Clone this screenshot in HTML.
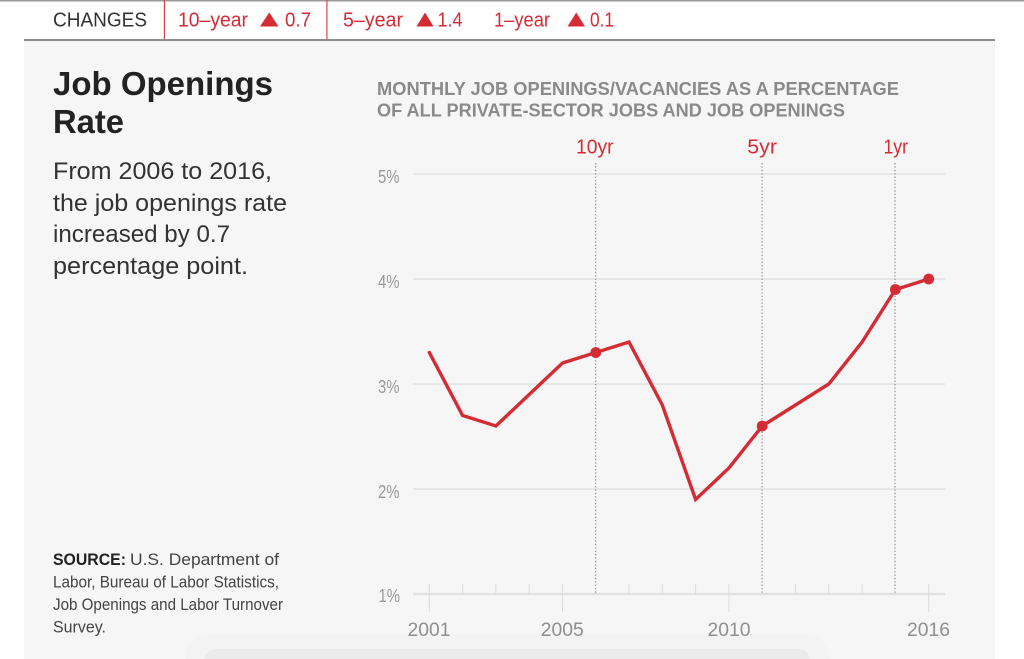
<!DOCTYPE html>
<html><head><meta charset="utf-8">
<style>
html,body{margin:0;padding:0;background:#fff;width:1024px;height:659px;overflow:hidden;}
svg{display:block;}
text{font-family:"Liberation Sans",sans-serif;}
</style></head>
<body>
<svg width="1024" height="659" viewBox="0 0 1024 659" xmlns="http://www.w3.org/2000/svg">
<rect width="1024" height="659" fill="#ffffff"/>
<rect x="0" y="0" width="1024" height="1.5" fill="#9a9a9a"/>
<rect x="24" y="41" width="971" height="618" fill="#f6f6f6"/>
<rect x="24" y="39" width="971" height="2" fill="#8c8c8c"/>
<rect x="163.8" y="0" width="1.2" height="39" fill="#d9434a"/>
<rect x="326.3" y="0" width="1.2" height="39" fill="#d9434a"/>

<!-- header -->
<text x="53" y="26.5" font-size="20" fill="#333" textLength="94" lengthAdjust="spacingAndGlyphs">CHANGES</text>
<g fill="#d52b34" font-size="20">
<text x="178" y="26.5" textLength="70" lengthAdjust="spacingAndGlyphs">10–year</text>
<polygon points="260,26.5 278.5,26.5 269.25,12.5"/>
<text x="285" y="26.5" textLength="26" lengthAdjust="spacingAndGlyphs">0.7</text>
<text x="343" y="26.5" textLength="60" lengthAdjust="spacingAndGlyphs">5–year</text>
<polygon points="416.5,26.5 433.5,26.5 425,12.5"/>
<text x="437.5" y="26.5" textLength="25" lengthAdjust="spacingAndGlyphs">1.4</text>
<text x="494" y="26.5" textLength="56" lengthAdjust="spacingAndGlyphs">1–year</text>
<polygon points="567.5,26.5 585,26.5 576.25,12.5"/>
<text x="590" y="26.5" textLength="24" lengthAdjust="spacingAndGlyphs">0.1</text>
</g>

<!-- left column -->
<text x="53" y="95" font-size="33" font-weight="bold" fill="#222" textLength="220" lengthAdjust="spacingAndGlyphs">Job Openings</text>
<text x="53" y="133" font-size="33" font-weight="bold" fill="#222" textLength="71" lengthAdjust="spacingAndGlyphs">Rate</text>
<g font-size="24" fill="#333">
<text x="53" y="179" textLength="219" lengthAdjust="spacingAndGlyphs">From 2006 to 2016,</text>
<text x="53" y="211" textLength="234" lengthAdjust="spacingAndGlyphs">the job openings rate</text>
<text x="53" y="242" textLength="177" lengthAdjust="spacingAndGlyphs">increased by 0.7</text>
<text x="53" y="274" textLength="195" lengthAdjust="spacingAndGlyphs">percentage point.</text>
</g>
<g font-size="17" fill="#444">
<text x="53" y="565" font-weight="bold" fill="#222" textLength="73" lengthAdjust="spacingAndGlyphs">SOURCE:</text>
<text x="130" y="565" textLength="149" lengthAdjust="spacingAndGlyphs">U.S. Department of</text>
<text x="53" y="587.5" textLength="226" lengthAdjust="spacingAndGlyphs">Labor, Bureau of Labor Statistics,</text>
<text x="53" y="610" textLength="230" lengthAdjust="spacingAndGlyphs">Job Openings and Labor Turnover</text>
<text x="53" y="632.5" textLength="53" lengthAdjust="spacingAndGlyphs">Survey.</text>
</g>

<!-- chart title -->
<g font-size="18.5" font-weight="bold" fill="#8a8a8a">
<text x="377" y="95" textLength="522" lengthAdjust="spacingAndGlyphs">MONTHLY JOB OPENINGS/VACANCIES AS A PERCENTAGE</text>
<text x="377" y="116.7" textLength="468" lengthAdjust="spacingAndGlyphs">OF ALL PRIVATE-SECTOR JOBS AND JOB OPENINGS</text>
</g>

<!-- gridlines -->
<g fill="#e2e2e2">
<rect x="413" y="173.3" width="532" height="1.5"/>
<rect x="413" y="278.3" width="532" height="1.5"/>
<rect x="413" y="383.3" width="532" height="1.5"/>
<rect x="413" y="488.3" width="532" height="1.5"/>
<rect x="413" y="592.8" width="532" height="2.4"/>
</g>
<!-- ticks -->
<g stroke="#dcdcdc" stroke-width="1">
<line x1="429.3" y1="584" x2="429.3" y2="612"/>
<line x1="462.6" y1="584" x2="462.6" y2="594"/>
<line x1="495.9" y1="584" x2="495.9" y2="594"/>
<line x1="529.2" y1="584" x2="529.2" y2="594"/>
<line x1="562.5" y1="584" x2="562.5" y2="612"/>
<line x1="629.0" y1="584" x2="629.0" y2="594"/>
<line x1="662.3" y1="584" x2="662.3" y2="594"/>
<line x1="695.6" y1="584" x2="695.6" y2="594"/>
<line x1="728.9" y1="584" x2="728.9" y2="612"/>
<line x1="795.5" y1="584" x2="795.5" y2="594"/>
<line x1="828.8" y1="584" x2="828.8" y2="594"/>
<line x1="862.1" y1="584" x2="862.1" y2="594"/>
<line x1="928.7" y1="584" x2="928.7" y2="612"/>
</g>

<!-- y labels -->
<g font-size="18.5" fill="#999">
<text x="378" y="183" textLength="21.5" lengthAdjust="spacingAndGlyphs">5%</text>
<text x="378" y="288" textLength="21.5" lengthAdjust="spacingAndGlyphs">4%</text>
<text x="378" y="393" textLength="21.5" lengthAdjust="spacingAndGlyphs">3%</text>
<text x="378" y="498" textLength="21.5" lengthAdjust="spacingAndGlyphs">2%</text>
<text x="378.5" y="602" textLength="21.5" lengthAdjust="spacingAndGlyphs">1%</text>
</g>

<!-- bottom card shape (clipped to frame) -->
<path d="M185,659 L185,662 Q185,634 213,634 L801,634 Q829,634 829,662 L829,659 Z" fill="#f2f3f2"/>
<path d="M204,659 L204,663 Q204,649 218,649 L796,649 Q810,649 810,663 L810,659 Z" fill="#ebebeb"/>

<!-- x labels -->
<g font-size="19" fill="#8f8f8f" text-anchor="middle">
<text x="429" y="636" textLength="43" lengthAdjust="spacingAndGlyphs">2001</text>
<text x="562.3" y="636" textLength="43" lengthAdjust="spacingAndGlyphs">2005</text>
<text x="729" y="636" textLength="43" lengthAdjust="spacingAndGlyphs">2010</text>
<text x="928.5" y="636" textLength="43" lengthAdjust="spacingAndGlyphs">2016</text>
</g>

<!-- dotted markers -->
<g stroke="#9a9a9a" stroke-width="1.3" stroke-dasharray="1.4 2">
<line x1="595.6" y1="163" x2="595.6" y2="594"/>
<line x1="762.1" y1="163" x2="762.1" y2="594"/>
<line x1="895" y1="163" x2="895" y2="594"/>
</g>
<g font-size="20" fill="#d52b34">
<text x="576" y="153.3" textLength="37.5" lengthAdjust="spacingAndGlyphs">10yr</text>
<text x="747.3" y="153.3" textLength="29.7" lengthAdjust="spacingAndGlyphs">5yr</text>
<text x="883.5" y="153.3" textLength="24.5" lengthAdjust="spacingAndGlyphs">1yr</text>
</g>

<!-- series -->
<polyline fill="none" stroke="#d52b34" stroke-width="3.4" stroke-linejoin="miter" stroke-linecap="round"
points="429.3,352.5 462.6,415.5 495.9,426 529.2,394.5 562.5,363 595.8,352.5 629.0,342 662.3,405 695.6,499.5 728.9,468 762.2,426 795.5,405 828.8,384 862.1,342 895.4,289.5 928.7,279"/>
<g fill="#d52b34">
<circle cx="595.8" cy="352.5" r="5.4"/>
<circle cx="762.2" cy="426" r="5.4"/>
<circle cx="895.4" cy="289.5" r="5.4"/>
<circle cx="928.7" cy="279" r="5.4"/>
</g>
</svg>
</body></html>
